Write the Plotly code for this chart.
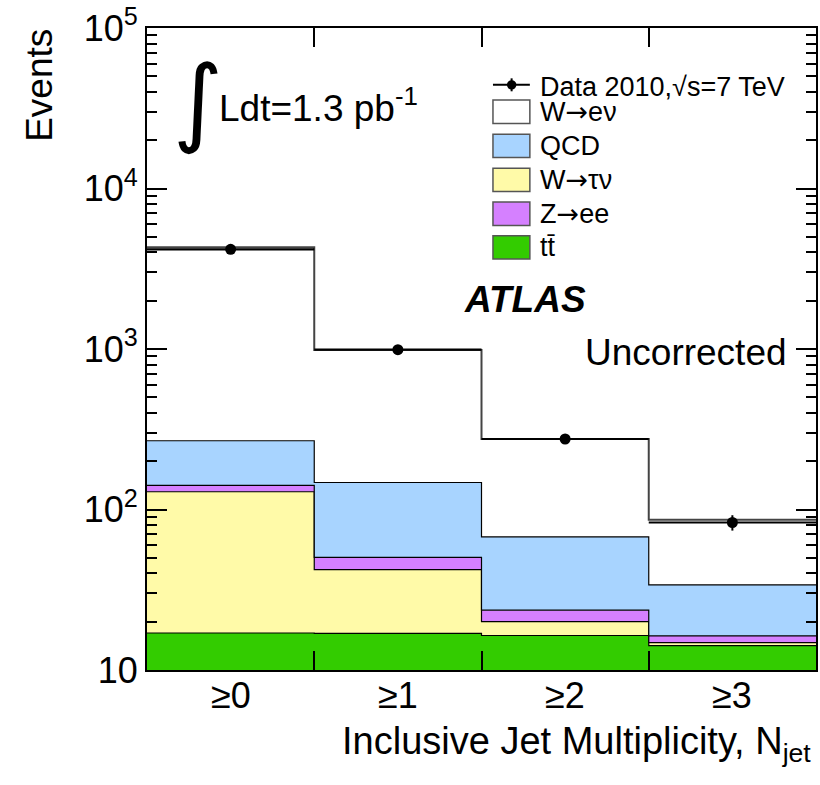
import numpy as np
import plotly.graph_objects as go

# Inclusive jet multiplicity bins (edges 0..4)
bin_labels = ["≥0", "≥1", "≥2", "≥3"]
bin_edges = [0, 1, 2, 3, 4]

# Stacked expectations per bin (events), bottom to top
ttbar = [17.0, 16.9, 16.4, 14.2]
w_taunu = [112.0, 25.3, 3.6, 0.6]
z_ee = [12.2, 8.1, 3.6, 1.5]
qcd = [127.0, 97.0, 44.0, 17.6]
w_enu = [4030.0, 838.0, 207.0, 52.4]

# Observed data
data_counts = [4180.0, 990.0, 275.0, 83.0]

ARROW = '<span style="font-family:DejaVu Sans">→</span>'

# Process name -> (label, values, fill colour)
processes = {
    "ttbar": ("tt̄", ttbar, "#33cc00"),
    "wtau": ("W" + ARROW + "τν", w_taunu, "#fffaa8"),
    "zee": ("Z" + ARROW + "ee", z_ee, "#d580ff"),
    "qcd": ("QCD", qcd, "#a8d4ff"),
    "wenu": ("W" + ARROW + "eν", w_enu, "#ffffff"),
}
stack_order = ["ttbar", "wtau", "zee", "qcd", "wenu"]
legend_order = ["wenu", "qcd", "wtau", "zee", "ttbar"]

FONT = "Liberation Sans, Arial, Helvetica, sans-serif"
W, H = 820, 785
L, R, T, B = 147, 2, 26, 115
PW, PH = W - L - R, H - T - B
y_range = [1, 5]


def px(x):
    return (x - L) / PW


def py(y):
    return (H - B - y) / PH


fig = go.Figure()

centers = [(bin_edges[i] + bin_edges[i + 1]) / 2 for i in range(len(bin_labels))]

# invisible floor for the first filled layer
floor = [10 ** y_range[0]] * len(bin_edges)
fig.add_trace(go.Scatter(x=bin_edges, y=floor, mode="lines", line=dict(width=0),
                         showlegend=False, hoverinfo="skip"))

cum = np.zeros(len(bin_labels))
for key in stack_order:
    name, vals, color = processes[key]
    cum = cum + np.array(vals)
    ys = list(cum) + [cum[-1]]
    top = key == stack_order[-1]
    fig.add_trace(go.Scatter(
        x=bin_edges, y=ys, mode="lines",
        line=dict(shape="hv", color="#444444" if top else "black", width=2 if top else 1.2),
        fill="tonexty", fillcolor=color, name=name, showlegend=False, hoverinfo="skip"))

# data points with statistical errors and bin-width bars
fig.add_trace(go.Scatter(
    x=centers, y=data_counts, mode="markers",
    marker=dict(color="black", size=11),
    error_x=dict(type="constant", value=0.5, color="black", thickness=2.2, width=0),
    error_y=dict(type="data", array=list(np.sqrt(data_counts)), color="black",
                 thickness=2, width=0),
    showlegend=False, hoverinfo="skip"))

decades = [10, 100, 1000, 10000, 100000]
decade_text = ["10", "10<sup>2</sup>", "10<sup>3</sup>", "10<sup>4</sup>", "10<sup>5</sup>"]
minor_vals = [m * d for d in decades[:-1] for m in range(2, 10)]

fig.update_yaxes(
    type="log", range=y_range, tickvals=decades, ticktext=decade_text,
    ticks="inside", ticklen=20, tickwidth=1.5, tickcolor="black",
    minor=dict(tickvals=minor_vals, ticks="inside", ticklen=10, tickwidth=1.5,
               tickcolor="black", showgrid=False),
    showline=True, linecolor="black", linewidth=2, mirror="allticks",
    showgrid=False, zeroline=False,
    tickfont=dict(family=FONT, size=36, color="black"),
)
fig.update_xaxes(
    range=[0, 4], tickvals=centers, showticklabels=False, ticks="",
    minor=dict(tickvals=bin_edges[1:-1], ticks="inside", ticklen=19, tickwidth=1.5,
               tickcolor="black", showgrid=False),
    showline=True, linecolor="black", linewidth=2, mirror="allticks",
    showgrid=False, zeroline=False,
)

annotations = []
shapes = []

# bin labels under the axis
for c, lab in zip(centers, bin_labels):
    annotations.append(dict(xref="x", yref="paper", x=c, y=py(696),
                            xanchor="center", yanchor="middle", showarrow=False,
                            text=lab, font=dict(family=FONT, size=36, color="black")))

# axis titles
annotations.append(dict(xref="paper", yref="paper", x=px(815), y=py(744),
                        xanchor="right", yanchor="middle", showarrow=False,
                        text="Inclusive Jet Multiplicity, N<sub>jet</sub>",
                        font=dict(family=FONT, size=38, color="black")))
annotations.append(dict(xref="paper", yref="paper", x=px(39), y=py(25),
                        xanchor="center", yanchor="top", showarrow=False, textangle=-90,
                        text="Events", font=dict(family=FONT, size=37, color="black")))

# luminosity, experiment and status labels
annotations.append(dict(xref="paper", yref="paper", x=px(198), y=py(99),
                        xanchor="center", yanchor="middle", showarrow=False,
                        text="∫", font=dict(family="DejaVu Sans", size=96, color="black")))
annotations.append(dict(xref="paper", yref="paper", x=px(217), y=py(104),
                        xanchor="left", yanchor="middle", showarrow=False,
                        text="Ldt=1.3 pb<sup>-1</sup>",
                        font=dict(family=FONT, size=37, color="black")))
annotations.append(dict(xref="paper", yref="paper", x=px(463), y=py(298),
                        xanchor="left", yanchor="middle", showarrow=False,
                        text="<b><i>ATLAS</i></b>",
                        font=dict(family=FONT, size=37, color="black")))
annotations.append(dict(xref="paper", yref="paper", x=px(791), y=py(352),
                        xanchor="right", yanchor="middle", showarrow=False,
                        text="Uncorrected",
                        font=dict(family=FONT, size=37, color="black")))

# legend
box_x0, box_x1, text_x = 494, 531, 539
leg_font = dict(family=FONT, size=27, color="black")
shapes.append(dict(type="line", xref="paper", yref="paper",
                   x0=px(box_x0), x1=px(box_x1), y0=py(83), y1=py(83),
                   line=dict(color="black", width=2)))
shapes.append(dict(type="line", xref="paper", yref="paper",
                   x0=px(512.7), x1=px(512.7), y0=py(76.5), y1=py(89.5),
                   line=dict(color="black", width=2)))
shapes.append(dict(type="circle", xref="paper", yref="paper",
                   x0=px(508), x1=px(517.5), y0=py(78.3), y1=py(87.8),
                   fillcolor="black", line=dict(color="black", width=0)))
annotations.append(dict(xref="paper", yref="paper", x=px(text_x), y=py(85),
                        xanchor="left", yanchor="middle", showarrow=False,
                        text="Data 2010,√s=7 TeV", font=leg_font))

legend_y = [110, 144.3, 178.3, 212.3, 246]
for key, yc in zip(legend_order, legend_y):
    label, _, color = processes[key]
    shapes.append(dict(type="rect", xref="paper", yref="paper",
                       x0=px(box_x0), x1=px(box_x1), y0=py(yc - 11.7), y1=py(yc + 11.7),
                       fillcolor=color, line=dict(color="#555555", width=1.5)))
    annotations.append(dict(xref="paper", yref="paper", x=px(text_x), y=py(yc),
                            xanchor="left", yanchor="middle", showarrow=False,
                            text=label, font=leg_font))

fig.update_layout(
    width=W, height=H, margin=dict(l=L, r=R, t=T, b=B),
    paper_bgcolor="white", plot_bgcolor="white",
    showlegend=False, annotations=annotations, shapes=shapes,
    font=dict(family=FONT, color="black"),
)

fig.write_html("out.html")
